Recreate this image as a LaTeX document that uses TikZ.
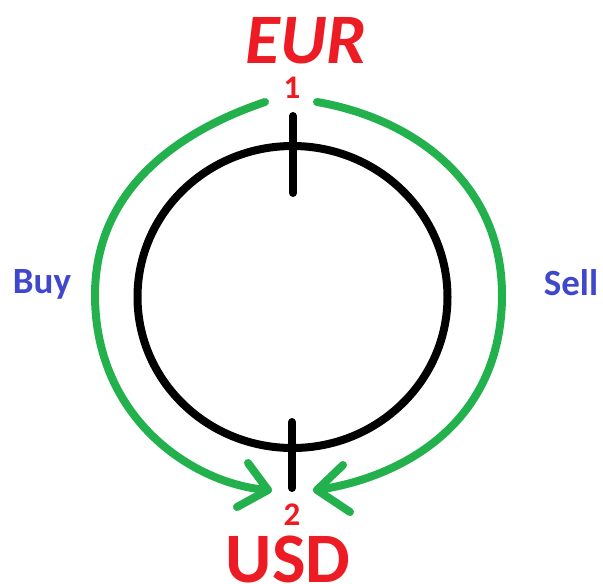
\documentclass[tikz,border=0pt]{standalone}
\usepackage{fontspec}
\setmainfont{Carlito}
\definecolor{pred}{RGB}{237,28,36}
\definecolor{pgreen}{RGB}{34,177,76}
\definecolor{pblue}{RGB}{63,72,204}
\begin{document}
\begin{tikzpicture}[x=1pt,y=-1pt,
  blackline/.style={line width=8pt,black,line cap=round},
  greenline/.style={line width=8pt,pgreen,line cap=round,line join=round},
  cur/.style={inner sep=0pt,anchor=base,text=pred,text depth=0pt,font=\bfseries\fontsize{71}{71}\selectfont},
  num/.style={inner sep=0pt,anchor=base,text=pred,font=\bfseries\fontsize{33}{33}\selectfont},
  side/.style={inner sep=0pt,anchor=base,text=pblue,font=\bfseries\fontsize{37}{37}\selectfont}]
\useasboundingbox (0,0) rectangle (603,584);
\fill[white] (0,0) rectangle (603,584);
% circle
\coordinate (c) at (292.5,297);
\draw[blackline] (c) ellipse [x radius=155pt, y radius=151pt];
% ticks
\coordinate (t1) at (293,116);
\coordinate (t2) at (293,193);
\coordinate (b1) at (292,422);
\coordinate (b2) at (292,488);
\draw[blackline] (t1) -- (t2);
\draw[blackline] (b1) -- (b2);
% green arcs
\coordinate (ls) at (265,102);
\coordinate (lm) at (95,295);
\coordinate (lt) at (268,490);
\coordinate (rs) at (317,102);
\coordinate (rm) at (502,295);
\coordinate (rt) at (317,490);
\draw[greenline] (ls) .. controls (185,129) and (95,185) .. (lm)
                      .. controls (95,420) and (195,485) .. (lt);
\draw[greenline] (248,463) -- (lt) -- (237,507);
\draw[greenline] (rs) .. controls (410,118) and (502,180) .. (rm)
                      .. controls (502,425) and (400,478) .. (rt);
\draw[greenline] (343,465) -- (rt) -- (350,512);
% texts
\node[cur,font=\bfseries\itshape\fontsize{71}{71}\selectfont] (eur) at (306,63) {EUR};
\node[cur] (usd) at (288,582) {USD};
\node[num] (n1) at (292,98) {1};
\node[num] (n2) at (292,525) {2};
\node[side] (buy) at (42,293) {Buy};
\node[side] (sell) at (571,295) {Sell};
\end{tikzpicture}
\end{document}
